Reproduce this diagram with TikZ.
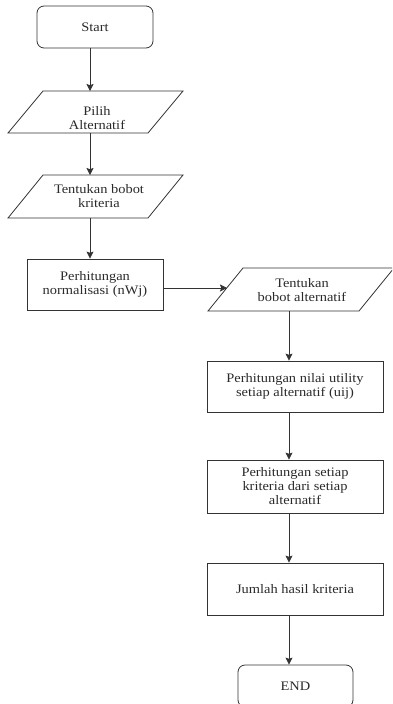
\documentclass[tikz,border=0pt]{standalone}
\usepackage{fontspec}
\setmainfont[FakeStretch=1.11]{Liberation Serif}
\usetikzlibrary{arrows.meta}
\definecolor{linec}{HTML}{333333}
\definecolor{textc}{HTML}{2A2A2A}
\begin{document}
\begin{tikzpicture}[x=1pt,y=-1pt,
  every node/.style={font=\fontsize{13}{14}\selectfont, text=textc, align=center},
  box/.style={draw=linec, line width=0.8pt, rectangle, inner sep=0pt},
  term/.style={box, rounded corners=7pt},
  shp/.style={draw=linec, line width=0.8pt, line join=miter},
  arr/.style={draw=linec, line width=0.8pt, -{Stealth[length=7pt,width=7pt,inset=1.2pt]}}]
\useasboundingbox (0,0) rectangle (392,704);
\clip (0,0) rectangle (392,704);
% column guides
\coordinate (cL) at (90,0);
\coordinate (cR) at (289,0);
% left column
\node[term, minimum width=116pt, minimum height=42pt] (start) at (95,27) {Start};
\draw[shp] (43,91) -- (183,91) -- (148,133) -- (8,133) -- cycle;
\node (pilih) at (97,118) {Pilih\\Alternatif};
\coordinate (pilihT) at (90,91);
\coordinate (pilihB) at (90,133);
\draw[shp] (43,175) -- (183,175) -- (148,218) -- (8,218) -- cycle;
\node (krit) at (99,196.5) {Tentukan bobot\\kriteria};
\coordinate (kritT) at (90,175);
\coordinate (kritB) at (90,218);
\node[box, minimum width=136pt, minimum height=51pt] (norm) at (95,284.5) {Perhitungan\\normalisasi (nWj)};
% right column
\draw[shp] (243,268) -- (394,268) -- (359,311) -- (208,311) -- cycle;
\node (alt) at (302,290) {Tentukan\\bobot alternatif};
\coordinate (altL) at (227,288);
\coordinate (altB) at (289,311);
\node[box, minimum width=176pt, minimum height=51pt] (util) at (295,386.5) {Perhitungan nilai utility\\setiap alternatif (uij)};
\node[box, minimum width=176pt, minimum height=53pt] (setiap) at (295,486.5) {Perhitungan setiap\\kriteria dari setiap\\alternatif};
\node[box, minimum width=176pt, minimum height=52pt] (jumlah) at (295,589) {Jumlah hasil kriteria};
\node[term, minimum width=115pt, minimum height=42pt] (end) at (295.5,686) {END};
% connectors
\draw[arr] (start.south -| cL) -- (pilihT);
\draw[arr] (pilihB) -- (kritT);
\draw[arr] (kritB) -- (norm.north -| cL);
\draw[arr] (norm.east |- altL) -- (altL);
\draw[arr] (altB) -- (util.north -| cR);
\draw[arr] (util.south -| cR) -- (setiap.north -| cR);
\draw[arr] (setiap.south -| cR) -- (jumlah.north -| cR);
\draw[arr] (jumlah.south -| cR) -- (end.north -| cR);
\end{tikzpicture}
\end{document}
